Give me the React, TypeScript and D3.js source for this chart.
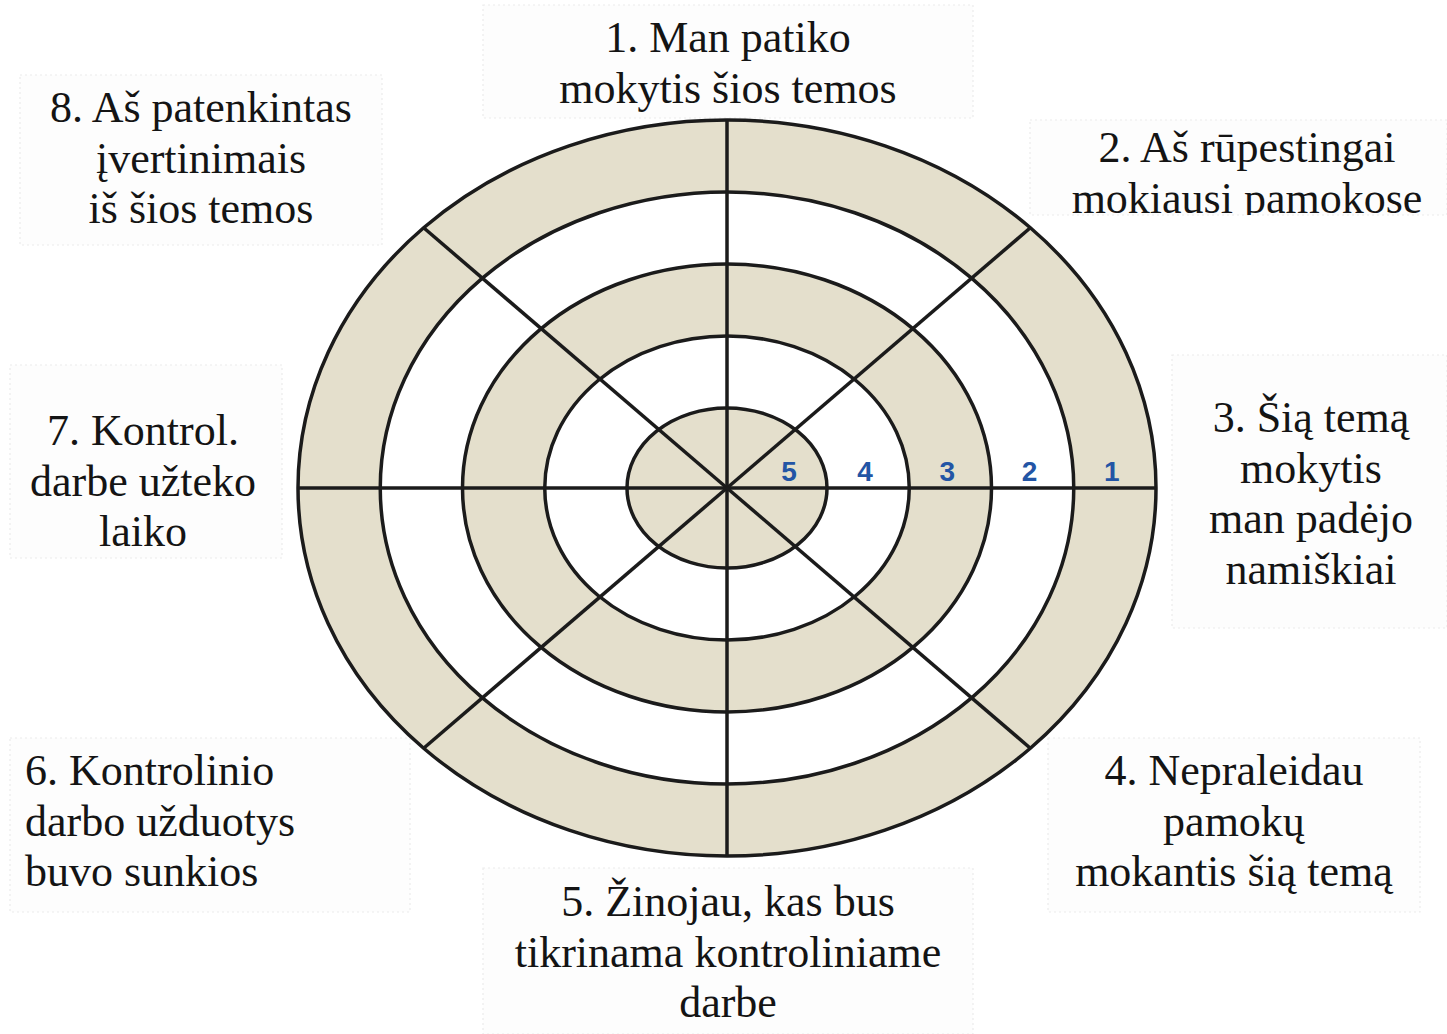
import React, { useEffect, useRef } from "react";
import * as d3 from "d3";

// rating levels, outer (1) to inner (5)
const levels = [1, 2, 3, 4, 5];

// the eight statements, one per sector, clockwise from top
const statements: string[][] = [
  ["1. Man patiko", "mokytis šios temos"],
  ["2. Aš rūpestingai", "mokiausi pamokose"],
  ["3. Šią temą", "mokytis", "man padėjo", "namiškiai"],
  ["4. Nepraleidau", "pamokų", "mokantis šią temą"],
  ["5. Žinojau, kas bus", "tikrinama kontroliniame", "darbe"],
  ["6. Kontrolinio", "darbo užduotys", "buvo sunkios"],
  ["7. Kontrol.", "darbe užteko", "laiko"],
  ["8. Aš patenkintas", "įvertinimais", "iš šios temos"],
];

// where each statement box sits on the page
const boxes = [
  { x: 483, y: 5, w: 490, h: 113, tx: 728, ty: 52, anchor: "middle" },
  { x: 1030, y: 120, w: 417, h: 95, tx: 1247, ty: 162, anchor: "middle" },
  { x: 1172, y: 355, w: 275, h: 273, tx: 1311, ty: 432, anchor: "middle" },
  { x: 1048, y: 738, w: 372, h: 174, tx: 1234, ty: 785, anchor: "middle" },
  { x: 483, y: 868, w: 490, h: 166, tx: 728, ty: 916, anchor: "middle" },
  { x: 10, y: 738, w: 400, h: 174, tx: 25, ty: 785, anchor: "start" },
  { x: 10, y: 365, w: 272, h: 193, tx: 143, ty: 445, anchor: "middle" },
  { x: 20, y: 75, w: 362, h: 170, tx: 201, ty: 122, anchor: "middle" },
];

const width = 1447;
const height = 1034;
const cx = 727;
const cy = 488;
const beige = "#e4dfcc";
const ink = "#1b1b1b";

export default function App() {
  const ref = useRef<SVGSVGElement>(null);

  useEffect(() => {
    const svg = d3.select(ref.current);
    svg.selectAll("*").remove();

    // ring boundary radii (ellipse, slightly squashed vertically)
    const rx = d3.scaleLinear().domain([5, 1]).range([100, 429]);
    const ry = d3.scaleLinear().domain([5, 1]).range([80, 368]);

    svg.append("rect").attr("width", width).attr("height", height).attr("fill", "#ffffff");

    // statement boxes
    const defs = svg.append("defs");
    const g = svg.append("g").attr("font-family", "'Liberation Serif', 'Times New Roman', serif");
    statements.forEach((lines, i) => {
      const b = boxes[i];
      defs.append("clipPath").attr("id", `clip${i}`)
        .append("rect").attr("x", b.x).attr("y", b.y).attr("width", b.w).attr("height", b.h);
      g.append("rect")
        .attr("x", b.x).attr("y", b.y).attr("width", b.w).attr("height", b.h)
        .attr("fill", "#fdfdfd")
        .attr("stroke", "#ececec")
        .attr("stroke-width", 1.2)
        .attr("stroke-dasharray", "2,3");
      const t = g.append("text")
        .attr("clip-path", `url(#clip${i})`)
        .attr("text-anchor", b.anchor)
        .attr("font-size", 44)
        .attr("fill", "#141414");
      t.selectAll("tspan")
        .data(lines)
        .join("tspan")
        .attr("x", b.tx)
        .attr("y", (d, j) => b.ty + j * 50.5)
        .text(d => d);
    });

    // rings, drawn outer to inner
    const chart = svg.append("g");
    chart.selectAll("ellipse")
      .data(levels)
      .join("ellipse")
      .attr("cx", cx)
      .attr("cy", cy)
      .attr("rx", d => rx(d))
      .attr("ry", d => ry(d))
      .attr("fill", d => (d % 2 === 1 ? beige : "#ffffff"))
      .attr("stroke", ink)
      .attr("stroke-width", 3.5);

    // spokes, one per sector boundary
    const angle = d3.scaleLinear().domain([0, statements.length]).range([0, 2 * Math.PI]);
    chart.selectAll("line")
      .data(d3.range(statements.length))
      .join("line")
      .attr("x1", cx)
      .attr("y1", cy)
      .attr("x2", i => cx + rx(1) * Math.cos(angle(i)))
      .attr("y2", i => cy - ry(1) * Math.sin(angle(i)))
      .attr("stroke", ink)
      .attr("stroke-width", 3.5);

    // level numbers along the right axis
    chart.selectAll("text.level")
      .data(levels)
      .join("text")
      .attr("class", "level")
      .attr("x", d => {
        const inner = d === 5 ? rx(5) * 0.3 : rx(d + 1);
        return cx + (inner + rx(d)) / 2 - 3;
      })
      .attr("y", cy - 7)
      .attr("text-anchor", "middle")
      .attr("font-family", "'Liberation Sans', Arial, sans-serif")
      .attr("font-weight", "bold")
      .attr("font-size", 28)
      .attr("fill", "#2355a5")
      .text(d => d);
  }, []);

  return (
    <svg
      ref={ref}
      width={width}
      height={height}
      style={{ position: "absolute", left: 0, top: 0 }}
    />
  );
}
